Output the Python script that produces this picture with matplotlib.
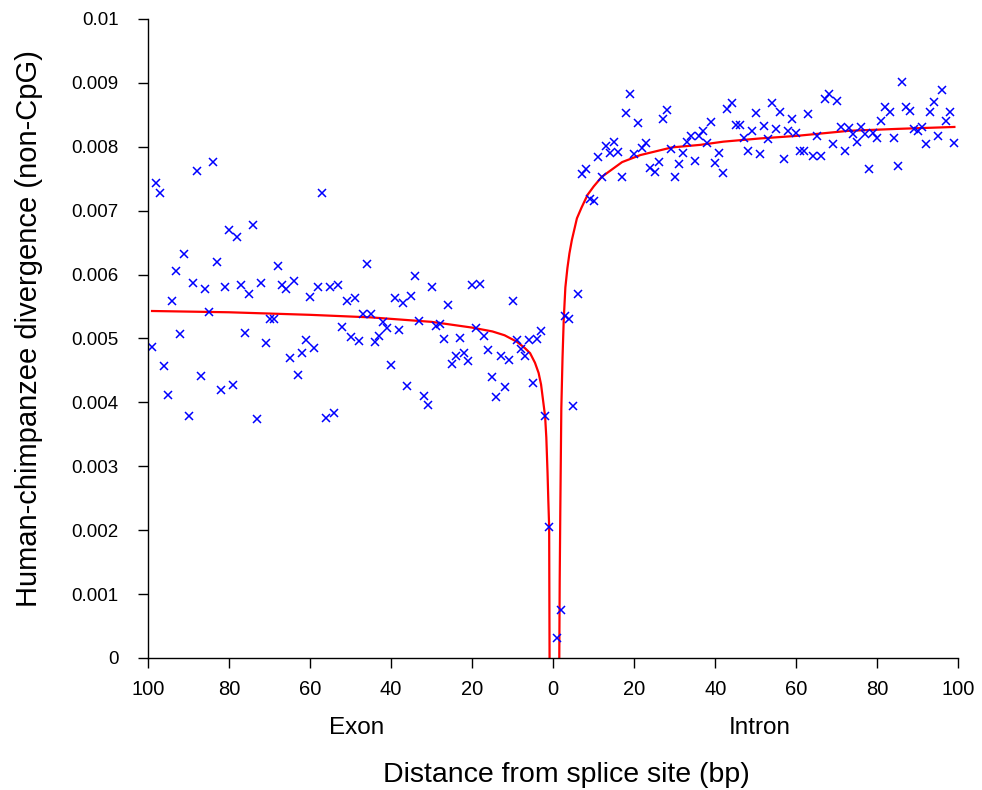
#divergence around the splice site, exon on the left and intron on the right

import numpy as np
import matplotlib.pyplot as plt

plt.rcParams['font.family'] = ['Liberation Sans', 'DejaVu Sans']

# distance from splice site, bp
exon_d = np.arange(1, 100)
intron_d = np.arange(1, 100)

# divergence x 1e-3, exon d = 1..99
exon_div = [2.05, 3.78, 5.12, 4.99, 4.31, 4.98, 4.73, 4.84, 4.98, 5.58,
            4.66, 4.24, 4.72, 4.09, 4.39, 4.82, 5.04, 5.85, 5.17, 5.84,
            4.64, 4.77, 5.01, 4.73, 4.60, 5.52, 4.99, 5.23, 5.20, 5.80,
            3.96, 4.10, 5.28, 5.98, 5.67, 4.25, 5.56, 5.13, 5.64, 4.58,
            5.17, 5.25, 5.04, 4.95, 5.39, 6.17, 5.39, 4.96, 5.64, 5.03,
            5.59, 5.18, 5.84, 3.83, 5.81, 3.75, 7.28, 5.81, 4.85, 5.65,
            4.97, 4.77, 4.43, 5.90, 4.69, 5.77, 5.83, 6.14, 5.31, 5.31,
            4.93, 5.87, 3.74, 6.77, 5.70, 5.08, 5.83, 6.59, 4.27, 6.70,
            5.81, 4.19, 6.20, 7.76, 5.41, 5.77, 4.42, 7.62, 5.87, 3.78,
            6.32, 5.07, 6.06, 5.59, 4.11, 4.57, 7.27, 7.44, 4.86]

# divergence x 1e-3, intron d = 1..99
intron_div = [0.31, 0.75, 5.35, 5.31, 3.94, 5.70, 7.57, 7.65, 7.18, 7.15,
              7.84, 7.53, 8.01, 7.90, 8.08, 7.92, 7.52, 8.53, 8.83, 7.89,
              8.37, 7.98, 8.06, 7.66, 7.60, 7.76, 8.44, 8.57, 7.97, 7.52,
              7.73, 7.91, 8.08, 8.17, 7.78, 8.17, 8.25, 8.06, 8.38, 7.75,
              7.91, 7.59, 8.59, 8.69, 8.34, 8.34, 8.13, 7.93, 8.25, 8.53,
              7.89, 8.33, 8.12, 8.68, 8.28, 8.54, 7.81, 8.24, 8.44, 8.21,
              7.93, 7.94, 8.51, 7.86, 8.17, 7.86, 8.75, 8.82, 8.04, 8.71,
              8.31, 7.94, 8.29, 8.20, 8.07, 8.31, 8.20, 7.65, 8.22, 8.13,
              8.40, 8.62, 8.55, 8.13, 7.70, 9.01, 8.62, 8.56, 8.28, 8.25,
              8.31, 8.05, 8.55, 8.70, 8.17, 8.89, 8.41, 8.55, 8.06]

# fitted curves
exon_fit_d = [0.9, 0.95, 1.0, 1.2, 1.4, 1.7, 2.0, 2.4, 3.0, 3.6, 4.5, 5.7,
              7, 9, 12, 15, 20, 30, 45, 60, 80, 99]
exon_fit = [0.0, 1.0, 2.05, 2.45, 2.9, 3.45, 3.78, 3.98, 4.28, 4.46, 4.62, 4.77,
            4.85, 4.95, 5.05, 5.11, 5.17, 5.26, 5.33, 5.37, 5.41, 5.43]
intron_fit_d = [1.5, 1.6, 1.75, 2.0, 2.3, 2.6, 3.0, 3.5, 4.0, 4.6, 5.85, 7, 8.5,
                10, 12, 17, 21.5, 29.3, 36.3, 42, 51, 60, 73, 85, 99]
intron_fit = [0.0, 1.2, 2.3, 3.9, 4.7, 5.3, 5.8, 6.1, 6.33, 6.54, 6.88, 7.05, 7.25,
              7.38, 7.53, 7.76, 7.87, 7.99, 8.03, 8.08, 8.13, 8.17, 8.25, 8.28, 8.31]

xticks = [-100, -80, -60, -40, -20, 0, 20, 40, 60, 80, 100]
yticks = [0, 0.001, 0.002, 0.003, 0.004, 0.005, 0.006, 0.007, 0.008, 0.009, 0.01]

fig = plt.figure(figsize=(9.82, 7.9), dpi=100)
ax = fig.add_axes([0.1507, 0.1671, 0.8253, 0.8089])

ax.plot(-np.array(exon_fit_d), np.array(exon_fit) / 1000, color='#ff0000', lw=1.6)
ax.plot(np.array(intron_fit_d), np.array(intron_fit) / 1000, color='#ff0000', lw=1.6)
ax.plot(-exon_d, np.array(exon_div) / 1000, 'x', color='#0000ff', ms=5.5, mew=1.1)
ax.plot(intron_d, np.array(intron_div) / 1000, 'x', color='#0000ff', ms=5.5, mew=1.1)

ax.set_xlim(-100, 100)
ax.set_ylim(0, 0.01)
ax.set_xticks(xticks)
ax.set_xticklabels([str(abs(t)) for t in xticks])
ax.set_yticks(yticks)
ax.set_yticklabels(['0', '0.001', '0.002', '0.003', '0.004', '0.005',
                    '0.006', '0.007', '0.008', '0.009', '0.01'])
ax.tick_params(direction='out', length=7, width=1)
ax.tick_params(axis='y', pad=14, labelsize=13.5)
ax.tick_params(axis='x', pad=9, labelsize=14.5)

for s in ['top', 'right']:
    ax.spines[s].set_visible(False)
for s in ['left', 'bottom']:
    ax.spines[s].set_linewidth(1)

ax.set_ylabel('Human-chimpanzee divergence (non-CpG)', fontsize=21)
ax.yaxis.set_label_coords(-0.13, 0.515)
ax.set_xlabel('Distance from splice site (bp)', fontsize=20.5)
ax.xaxis.set_label_coords(0.516, -0.163)
ax.text(-48.5, -0.11, 'Exon', transform=ax.get_xaxis_transform(), ha='center', va='center', fontsize=17.5)
ax.text(51, -0.11, 'Intron', transform=ax.get_xaxis_transform(), ha='center', va='center', fontsize=17.5)

plt.savefig('out.png', dpi=100)
